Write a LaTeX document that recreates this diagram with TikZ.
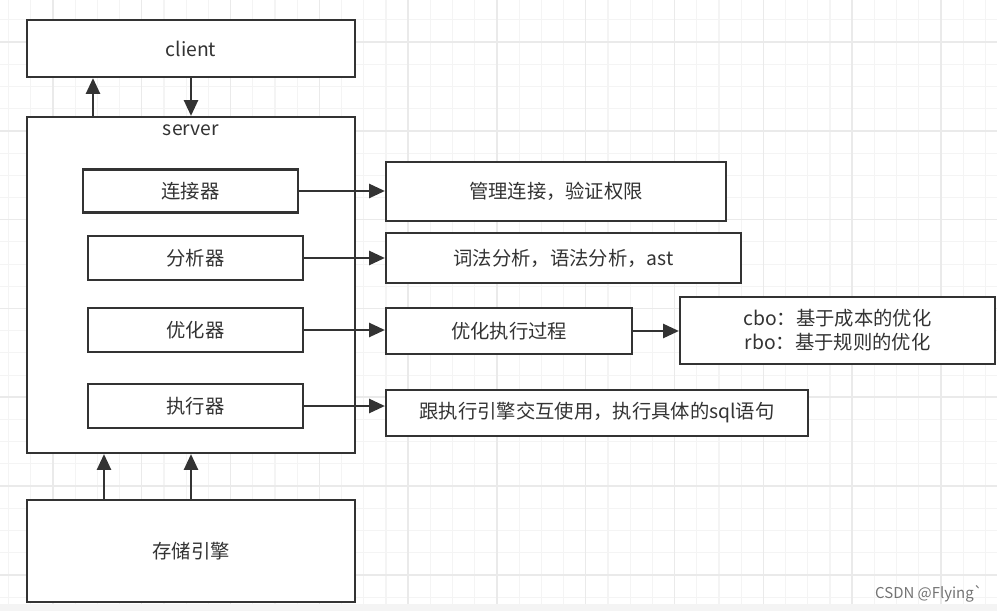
\documentclass[tikz,border=0pt]{standalone}
\usepackage{fontspec}
\setmainfont{Noto Sans CJK SC}
\usetikzlibrary{arrows.meta}
\definecolor{ink}{HTML}{333333}
\definecolor{gridminor}{HTML}{F4F4F4}
\definecolor{gridmajor}{HTML}{EAEAEA}

\begin{document}
\begin{tikzpicture}[x=0.02cm, y=-0.02cm,
    box/.style={draw=ink, line width=1.3pt, fill=white, inner sep=0pt, text=ink,
        font=\fontsize{11pt}{13.6pt}\selectfont},
    link/.style={draw=ink, line width=1.3pt, -{Triangle[length=9pt,width=8pt]}}]
    \useasboundingbox (0,0) rectangle (997,611);
    \fill[white] (0,0) rectangle (997,611);

    % Grid paper
    \foreach \i in {0,...,44} {
        \draw[gridminor, line width=0.6pt] (8.6+22.2*\i,0) -- (8.6+22.2*\i,604);
    }
    \foreach \i in {0,...,26} {
        \draw[gridminor, line width=0.6pt] (0,19.9+22.2*\i) -- (997,19.9+22.2*\i);
    }
    \foreach \i in {0,...,10} {
        \draw[gridmajor, line width=0.8pt] (52.8+88.8*\i,0) -- (52.8+88.8*\i,604);
    }
    \foreach \i in {0,...,6} {
        \draw[gridmajor, line width=0.8pt] (0,42+88.8*\i) -- (997,42+88.8*\i);
    }
    \fill[gridminor] (0,604) rectangle (997,611);

    % Client and server
    \node[box, minimum width=6.56cm, minimum height=1.14cm] (client) at (191,48.5) {client};
    \node[box, minimum width=6.56cm, minimum height=6.72cm] (server) at (191,285) {};
    \node[text=ink, font=\fontsize{11pt}{13.6pt}\selectfont] (serverlbl) at (191,130) {server};

    % Components inside the server
    \node[box, minimum width=4.3cm, minimum height=0.86cm] (conn) at (190.5,191) {连接器};
    \node[box, minimum width=4.3cm, minimum height=0.88cm] (parser) at (195.5,258) {分析器};
    \node[box, minimum width=4.3cm, minimum height=0.88cm] (optim) at (195.5,330) {优化器};
    \node[box, minimum width=4.3cm, minimum height=0.88cm] (exec) at (195.5,406) {执行器};

    % Storage engine
    \node[box, minimum width=6.56cm, minimum height=2.04cm] (storage) at (191,551) {存储引擎};

    % Descriptions
    \node[box, minimum width=6.8cm, minimum height=1.18cm] (conndesc) at (556,191.5) {管理连接，验证权限};
    \node[box, minimum width=7.1cm, minimum height=1.0cm] (parserdesc) at (563.5,258) {词法分析，语法分析，ast};
    \node[box, minimum width=4.92cm, minimum height=0.92cm] (optimdesc) at (509,331) {优化执行过程};
    \node[box, minimum width=6.3cm, minimum height=1.34cm, align=center] (cbo) at (837.5,330.5)
        {cbo：基于成本的优化\\rbo：基于规则的优化};
    \node[box, minimum width=8.44cm, minimum height=0.92cm] (execdesc) at (597,413) {跟执行引擎交互使用，执行具体的sql语句};

    % Arrows
    \coordinate (up1) at (93,0);
    \coordinate (st1) at (104,0);
    \draw[link] (server.north -| up1) -- (client.south -| up1);
    \draw[link] (client.south) -- (server.north);
    \draw[link] (storage.north -| st1) -- (server.south -| st1);
    \draw[link] (storage.north) -- (server.south);
    \draw[link] (conn.east) -- (conn.east -| conndesc.west);
    \draw[link] (parser.east) -- (parser.east -| parserdesc.west);
    \draw[link] (optim.east) -- (optim.east -| optimdesc.west);
    \draw[link] (exec.east) -- (exec.east -| execdesc.west);
    \draw[link] (optimdesc.east) -- (optimdesc.east -| cbo.west);

    % Watermark
    \node[text=black!55, font=\fontsize{8.5pt}{10pt}\selectfont] (mark) at (929,594) {CSDN @Flying\textasciigrave};
\end{tikzpicture}
\end{document}
